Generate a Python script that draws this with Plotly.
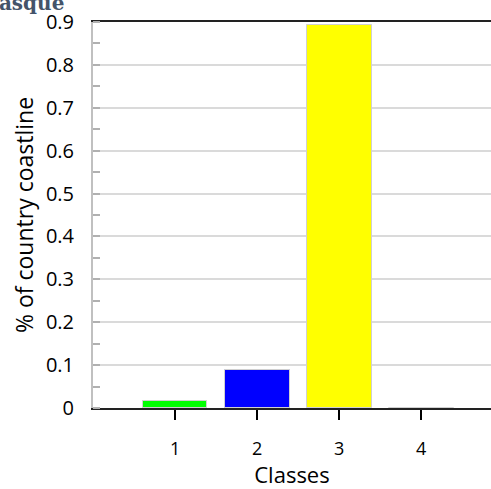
import plotly.graph_objects as go

classes = [1, 2, 3, 4]
values = [0.016, 0.089, 0.893, 0.001]
colors = ["#00ff00", "#0000ff", "#ffff00", "#ffffff"]
y_ticks = [0, 0.1, 0.2, 0.3, 0.4, 0.5, 0.6, 0.7, 0.8, 0.9]
y_tick_labels = ["0", "0.1", "0.2", "0.3", "0.4", "0.5", "0.6", "0.7", "0.8", "0.9"]

fig = go.Figure(go.Bar(
    x=classes, y=values, width=0.79,
    marker=dict(color=colors, line=dict(color="#d0d0d0", width=1)),
))

font = "Open Sans, Calibri, Carlito, DejaVu Sans, sans-serif"
fig.update_layout(
    width=491, height=489,
    margin=dict(l=93, r=0, t=22, b=81),
    plot_bgcolor="white", paper_bgcolor="white",
    showlegend=False,
    font=dict(family=font, color="black"),
    bargap=0,
)
fig.update_xaxes(
    range=[0, 4.85], tickvals=classes, ticktext=[str(c) for c in classes],
    ticks="outside", ticklen=10, tickcolor="black", tickwidth=1.5,
    showline=True, linecolor="#222222", linewidth=2, mirror=True,
    showgrid=False, zeroline=False,
    tickfont=dict(size=18), ticklabelstandoff=13,
    title=dict(text="Classes", font=dict(size=22), standoff=12),
)
fig.update_yaxes(
    range=[0, 0.9], tickvals=y_ticks, ticktext=y_tick_labels,
    ticks="", showline=True, linecolor="#c0c0c0", linewidth=2,
    showgrid=True, gridcolor="#dadada", gridwidth=1.5, zeroline=False,
    minor=dict(dtick=0.05, ticks="inside", ticklen=7, tickcolor="#b0b0b0", tickwidth=1.5, showgrid=False),
    tickfont=dict(size=20), ticklabelstandoff=13,
    title=dict(text="% of country coastline", font=dict(size=23), standoff=6),
)
fig.add_annotation(
    text="<b>Basque</b>", xref="paper", yref="paper",
    x=-0.068, y=1.013, xanchor="right", yanchor="bottom",
    showarrow=False,
    font=dict(family="DejaVu Serif, Liberation Serif, serif", size=20, color="#44546a"),
)
fig.write_html(
    "out.html",
    config={"displayModeBar": False},
    post_script="document.body.style.margin='0px';document.body.style.overflow='hidden';",
)
